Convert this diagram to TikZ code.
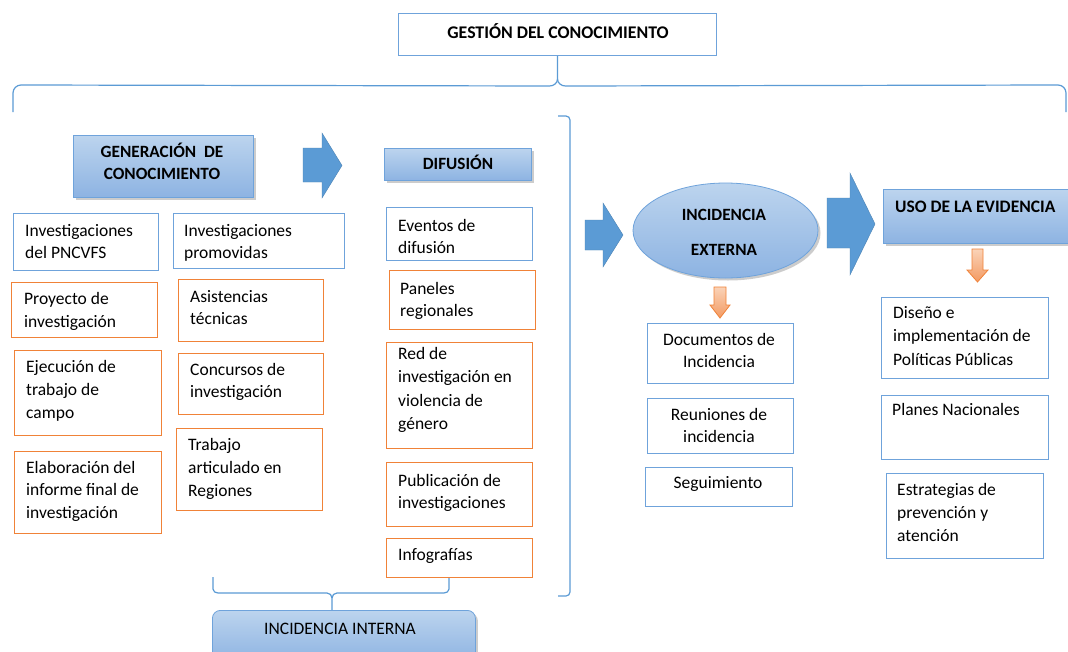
\documentclass[tikz,border=0pt]{standalone}
\usepackage{fontspec}
\setmainfont{Carlito}
\usetikzlibrary{shapes.geometric,shadows}
\definecolor{bl}{HTML}{5B9BD5}
\definecolor{blb}{HTML}{6FA3DB}
\definecolor{orb}{HTML}{F08238}
\definecolor{gtop}{HTML}{BCD4EE}
\definecolor{gbot}{HTML}{8DB3E2}
\definecolor{arr}{HTML}{5B9BD5}
\definecolor{otop}{HTML}{FAD3B8}
\definecolor{obot}{HTML}{F39A62}
\tikzset{
 bbox/.style={draw=blb, line width=1.2pt, fill=white, inner sep=0pt, anchor=north west},
 obox/.style={draw=orb, line width=1.2pt, fill=white, inner sep=0pt, anchor=north west},
 hbox/.style={draw=blb, line width=0.8pt, top color=gtop, bottom color=gbot, inner sep=0pt, anchor=north west,
   drop shadow={opacity=0.4, shadow xshift=2.5pt, shadow yshift=-2.5pt}},
 txt/.style={anchor=base west, inner sep=0pt},
 ctxt/.style={anchor=base, inner sep=0pt},
 brk/.style={draw=bl, line width=1.2pt},
 barrow/.style={fill=arr, draw=arr!85!black, line width=0.4pt},
 oarrow/.style={top color=otop, bottom color=obot, draw=orb, line width=0.8pt},
}
\newcommand\rbox[6]{\node[#6,minimum width={#4-#2},minimum height={#5-#3}] (#1) at (#2,#3) {};}
\newcommand\tl[5]{\node[txt] (#1) at (#2,#3) {\parbox[t]{175pt}{\raggedright\fontsize{17.5}{#4}\selectfont #5}};}
\newcommand\tc[5]{\node[ctxt] (#1) at (#2,#3) {\parbox[t]{200pt}{\centering\fontsize{17.5}{#4}\selectfont #5}};}
\newcommand\hc[5]{\node[ctxt] (#1) at (#2,#3) {\parbox[t]{260pt}{\centering\fontsize{17.2}{#4}\selectfont\bfseries #5}};}
\begin{document}
\begin{tikzpicture}[x=1pt,y=-1pt]
\useasboundingbox (0,0) rectangle (1068,651);
\clip (0,0) rectangle (1068,651);
\fill[white] (0,0) rectangle (1068,651);

% top heading
\rbox{g}{398}{13}{716}{55}{bbox,line width=1pt}
\node[ctxt] (gt) at (558,38) {\fontsize{17.8}{20}\selectfont\bfseries GESTIÓN DEL CONOCIMIENTO};

% top brace
\draw[brk] (g.south) -- ++(0,23) coordinate (gc) to[out=-90,in=0] ++(-8,7) -- (21,85) to[out=180,in=90] (13,93) -- (13,112);
\draw[brk] (gc) to[out=-90,in=180] ++(8,7) -- (1058,85) to[out=0,in=90] (1066,93) -- (1066,112);

% right bracket
\draw[brk] (558,116) -- (566,116) to[out=0,in=90] (570,120) -- (570,592) to[out=-90,in=0] (566,596) -- (558,596);

% headings
\rbox{gen}{73}{135}{253}{197}{hbox}
\hc{gent}{162}{157}{22}{GENERACIÓN\ \ DE\\CONOCIMIENTO}
\draw[barrow] (303,148) -- (322,148) -- (322,133) -- (342,165.5) -- (322,198) -- (322,182) -- (303,182) -- cycle;
\rbox{dif}{384}{148}{531}{180}{hbox}
\hc{dift}{458}{169}{20}{DIFUSIÓN}

% left column
\rbox{a1}{13}{213}{158}{270}{bbox}
\tl{a1t}{25}{236}{22}{Investigaciones\\del PNCVFS}
\rbox{a2}{11}{282}{157}{337}{obox}
\tl{a2t}{24}{304}{23}{Proyecto de\\investigación}
\rbox{a3}{14}{350}{161}{435}{obox}
\tl{a3t}{26}{372}{23}{Ejecución de\\trabajo de\\campo}
\rbox{a4}{14}{451}{161}{533}{obox}
\tl{a4t}{26}{473}{22.5}{Elaboración del\\informe final de\\investigación}

% second column
\rbox{b1}{173}{213}{344}{268}{bbox}
\tl{b1t}{184}{236}{22}{Investigaciones\\promovidas}
\rbox{b2}{178}{279}{323}{341}{obox}
\tl{b2t}{190}{302}{22}{Asistencias\\técnicas}
\rbox{b3}{178}{353}{323}{414}{obox}
\tl{b3t}{190}{375}{22.5}{Concursos de\\investigación}
\rbox{b4}{176}{428}{322}{510}{obox}
\tl{b4t}{188}{450}{23}{Trabajo\\articulado en\\Regiones}

% difusion column
\rbox{c1}{386}{207}{532}{260}{bbox}
\tl{c1t}{398}{231}{22}{Eventos de\\difusión}
\rbox{c2}{389}{270}{535}{329}{obox}
\tl{c2t}{400}{294}{22}{Paneles\\regionales}
\rbox{c3}{386}{342}{532}{448}{obox}
\tl{c3t}{398}{359}{23.5}{Red de\\investigación en\\violencia de\\género}
\rbox{c4}{386}{462}{532}{526}{obox}
\tl{c4t}{398}{486}{22}{Publicación de\\investigaciones}
\rbox{c5}{386}{538}{532}{577}{obox}
\tl{c5t}{398}{560}{22}{Infografías}

% bottom brace
\coordinate (bt) at (332,610);
\draw[brk] (213,577) -- (213,589) to[out=-90,in=180] (218,593) -- (327,593) to[out=0,in=90] (332,598) -- (bt);
\draw[brk] (332,598) to[out=90,in=180] (337,593) -- (444,593) to[out=0,in=-90] (449,589) -- (c5.south -| 449,0);
\rbox{ii}{212}{610}{475}{662}{hbox,rounded corners=8pt}
\node[ctxt] (iit) at (340,634) {\fontsize{17.5}{20}\selectfont INCIDENCIA INTERNA};

% incidencia externa
\draw[barrow] (585,220) -- (603,220) -- (603,203) -- (623,235) -- (603,267) -- (603,250) -- (585,250) -- cycle;
\node[ellipse, draw=blb, line width=0.8pt, top color=gtop, bottom color=gbot, minimum width=185pt, minimum height=95pt, inner sep=0pt,
  drop shadow={opacity=0.4, shadow xshift=2.5pt, shadow yshift=-2.5pt}] (ie) at (725.5,230.5) {};
\hc{iet}{724}{220}{35}{INCIDENCIA\\EXTERNA}
\draw[oarrow] (714,287) -- (726,287) -- (726,305) -- (730,305) -- (720,318) -- (710,305) -- (714,305) -- cycle;
\rbox{d1}{647}{323}{793}{383}{bbox}
\tc{d1t}{719}{345}{22}{Documentos de\\Incidencia}
\rbox{d2}{647}{398}{793}{453}{bbox}
\tc{d2t}{719}{420}{22}{Reuniones de\\incidencia}
\rbox{d3}{645}{467}{792}{506}{bbox}
\tc{d3t}{718}{488}{22}{Seguimiento}

% uso de la evidencia
\draw[barrow] (827,198) -- (850,198) -- (850,173) -- (875,224) -- (850,275) -- (850,248) -- (827,248) -- cycle;
\rbox{u}{883}{189}{1078}{243}{hbox}
\node[txt] (ut) at (895,212) {\fontsize{17.5}{20}\selectfont\bfseries USO DE LA EVIDENCIA};
\draw[oarrow] (972,249) -- (983,249) -- (983,270) -- (988,270) -- (977.5,282) -- (967,270) -- (972,270) -- cycle;
\rbox{e1}{881}{297}{1048}{378}{bbox}
\tl{e1t}{893}{318}{23.5}{Diseño e\\implementación de\\Políticas Públicas}
\rbox{e2}{881}{395}{1048}{459}{bbox}
\tl{e2t}{892}{415}{22}{Planes Nacionales}
\rbox{e3}{886}{473}{1043}{558}{bbox}
\tl{e3t}{897}{495}{23}{Estrategias de\\prevención y\\atención}
\end{tikzpicture}
\end{document}
